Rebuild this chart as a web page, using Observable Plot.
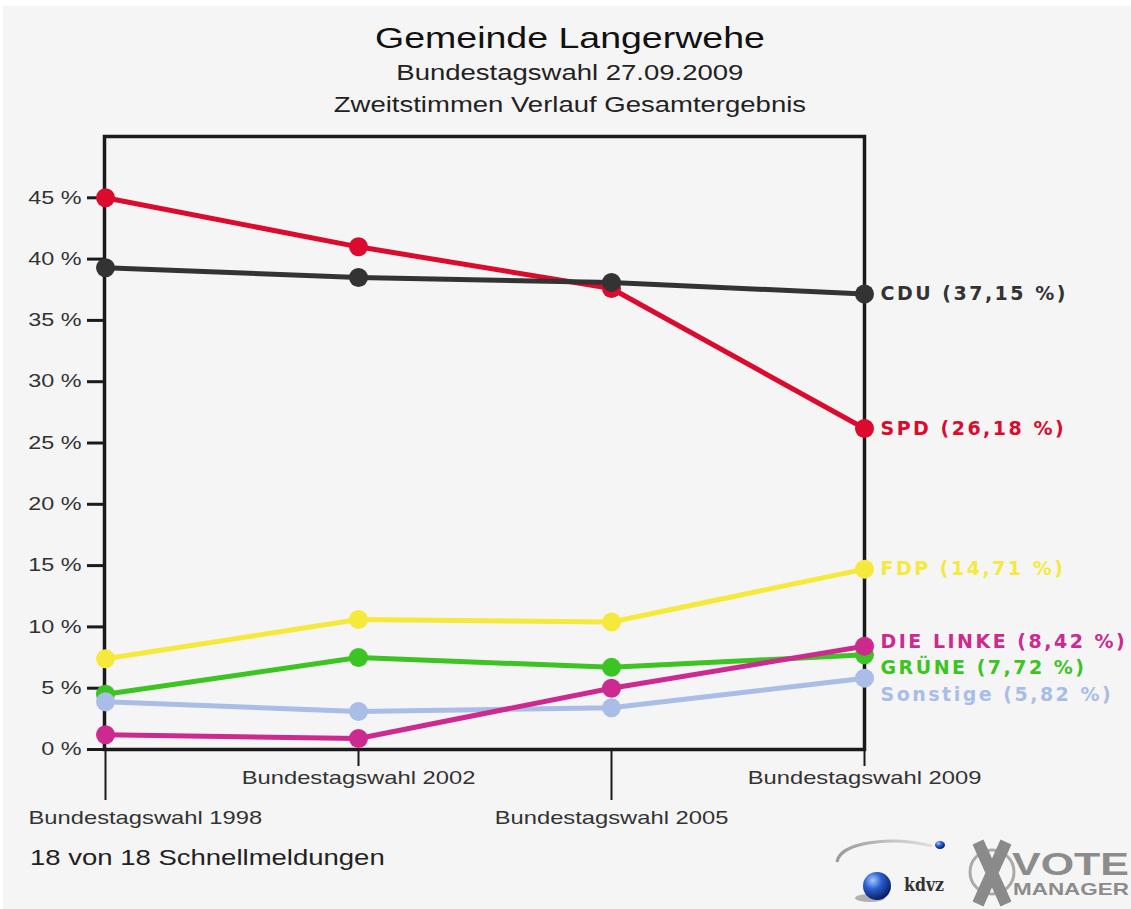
<!DOCTYPE html>
<html>
<head>
<meta charset="utf-8">
<script src="https://cdn.jsdelivr.net/npm/d3@7"></script>
<script src="https://cdn.jsdelivr.net/npm/@observablehq/plot@0.6"></script>
<style>
html, body { margin: 0; padding: 0; background: #ffffff; width: 1131px; height: 909px; overflow: hidden; }
#page { position: absolute; left: 3px; top: 6px; width: 1128px; height: 903px; background: #f5f5f5; }
.t { position: absolute; left: 0; width: 1140px; text-align: center; white-space: nowrap;
     font-family: "Liberation Sans", Arial, sans-serif; }
.t span { display: inline-block; transform: scaleX(1.25); transform-origin: center; }
#title { top: 23px; font-size: 30px; line-height: 30px; color: #111; }
#sub1 { top: 62px; font-size: 22px; line-height: 22px; color: #222; }
#sub2 { top: 94px; font-size: 22px; line-height: 22px; color: #222; }
#chart { position: absolute; left: 0; top: 120px; }
#caption { position: absolute; left: 30px; top: 847px; font-size: 22px; line-height: 22px; color: #222;
           font-family: "Liberation Sans", Arial, sans-serif; transform: scaleX(1.25); transform-origin: left center; white-space: nowrap; }
#logo { position: absolute; left: 820px; top: 820px; }
</style>
</head>
<body>
<div id="page"></div>
<div class="t" id="title"><span>Gemeinde Langerwehe</span></div>
<div class="t" id="sub1"><span>Bundestagswahl 27.09.2009</span></div>
<div class="t" id="sub2"><span>Zweitstimmen Verlauf Gesamtergebnis</span></div>
<div id="chart"></div>
<div id="caption">18 von 18 Schnellmeldungen</div>
<svg id="logo" width="311" height="89">
  <defs>
    <radialGradient id="ball" cx="35%" cy="30%" r="70%">
      <stop offset="0" stop-color="#a8c8ff"/>
      <stop offset="0.45" stop-color="#2a5fd0"/>
      <stop offset="1" stop-color="#0b1f66"/>
    </radialGradient>
    <linearGradient id="swoosh" x1="0" x2="1" y1="0" y2="0">
      <stop offset="0" stop-color="#9a9a9a"/>
      <stop offset="1" stop-color="#e0e0e0"/>
    </linearGradient>
  </defs>
  <path d="M17,42 C20,22 70,16 112,26" stroke="url(#swoosh)" stroke-width="3" fill="none"/>
  <ellipse cx="50" cy="78" rx="15" ry="4" fill="#333" opacity="0.35"/>
  <circle cx="57" cy="66" r="14" fill="url(#ball)"/>
  <ellipse cx="120" cy="25" rx="5" ry="4" fill="url(#ball)"/>
  <text x="84" y="71" font-family="DejaVu Serif" font-weight="bold" font-size="19" fill="#333" textLength="40" lengthAdjust="spacingAndGlyphs">kdvz</text>
  <circle cx="172" cy="52" r="22" stroke="#aaaaaa" stroke-width="3" fill="none"/>
  <path d="M158,22 L186,84 M186,22 L158,84" stroke="#8a8a8a" stroke-width="12"/>
  <text x="192" y="55" font-family="Liberation Sans" font-weight="bold" font-size="32" fill="#8c8c8c" textLength="117" lengthAdjust="spacingAndGlyphs">VOTE</text>
  <text x="193" y="75" font-family="Liberation Sans" font-weight="bold" font-size="17" fill="#8c8c8c" textLength="116" lengthAdjust="spacingAndGlyphs">MANAGER</text>
</svg>
<script>
// ---- data ----
const elections = ["Bundestagswahl 1998", "Bundestagswahl 2002", "Bundestagswahl 2005", "Bundestagswahl 2009"];
const parties = ["CDU", "SPD", "FDP", "DIE LINKE", "GRÜNE", "Sonstige"];
const partyColors = ["#333333", "#dc0a2c", "#f5e93c", "#cc2a8f", "#3cc423", "#a9bde6"];
const cdu = [39.3, 38.5, 38.1, 37.15];
const spd = [45.0, 41.0, 37.6, 26.18];
const fdp = [7.4, 10.6, 10.4, 14.71];
const linke = [1.2, 0.9, 5.0, 8.42];
const gruene = [4.5, 7.5, 6.7, 7.72];
const sonstige = [3.9, 3.1, 3.4, 5.82];
const yTicks = [0, 5, 10, 15, 20, 25, 30, 35, 40, 45];
const drawOrder = ["GRÜNE", "Sonstige", "DIE LINKE", "FDP", "SPD", "CDU"];

const series = { "CDU": cdu, "SPD": spd, "FDP": fdp, "DIE LINKE": linke, "GRÜNE": gruene, "Sonstige": sonstige };
const rows = drawOrder.flatMap(p => elections.map((e, i) => ({ party: p, election: e, value: series[p][i] })));

// end labels with simple top-down collision avoidance (in value units)
const last = elections.length - 1;
const gap = 2.14;
const ends = parties.map(p => ({ party: p, value: series[p][last] }))
  .sort((a, b) => b.value - a.value);
let prev = Infinity;
for (const d of ends) {
  const pushed = prev - gap < d.value;
  d.labelY = pushed ? prev - gap : d.value;
  prev = d.labelY;
  d.label = `${d.party} (${d.value.toFixed(2).replace(".", ",")} %)`;
}
// lift a pushed cluster slightly so it stays near its points
for (let i = 0; i < ends.length; i++) {
  if (i + 1 < ends.length && ends[i].value - ends[i + 1].value < gap) {
    let j = i; while (j + 1 < ends.length && ends[j].labelY - ends[j + 1].labelY <= gap + 1e-9) j++;
    for (let k = i; k <= j; k++) ends[k].labelY += 0.35;
    i = j;
  }
}
const endTexts = new Set(ends.map(d => d.label));

const longTicks = elections.filter((d, i) => i % 2 === 0);
const shortTicks = elections.filter((d, i) => i % 2 === 1);

const plot = Plot.plot({
  width: 1131,
  height: 715,
  marginLeft: 104,
  marginRight: 267,
  marginTop: 16,
  marginBottom: 86,
  style: { background: "transparent", fontFamily: "'Liberation Sans', Arial, sans-serif", overflow: "visible" },
  x: { type: "point", domain: elections, padding: 0, axis: null },
  y: { domain: [0, 50], axis: null },
  color: { domain: parties, range: partyColors },
  marks: [
    Plot.frame({ stroke: "#1a1a1a", strokeWidth: 3.5 }),
    Plot.axisY(yTicks, { tickSize: 17, tickPadding: 6, tickFormat: d => d + " %", stroke: "#1a1a1a", strokeWidth: 3, fill: "#333", fontSize: 18, label: null }),
    Plot.axisX(longTicks, { tickSize: 51, tickFormat: () => "", stroke: "#1a1a1a", strokeWidth: 2, label: null }),
    Plot.axisX(shortTicks, { tickSize: 17, tickFormat: () => "", stroke: "#1a1a1a", strokeWidth: 2, label: null }),
    Plot.text(shortTicks, { x: d => d, text: d => d, frameAnchor: "bottom", dy: 34, fontSize: 19, fill: "#333" }),
    Plot.text(longTicks.slice(1), { x: d => d, text: d => d, frameAnchor: "bottom", dy: 74, fontSize: 19, fill: "#333" }),
    Plot.text(longTicks.slice(0, 1), { x: d => d, text: d => d, frameAnchor: "bottom", dy: 74, dx: -77, textAnchor: "start", fontSize: 19, fill: "#333" }),
    Plot.line(rows, { x: "election", y: "value", z: "party", stroke: "party", strokeWidth: 5 }),
    Plot.dot(rows, { x: "election", y: "value", fill: "party", r: 9.5 }),
    Plot.text(ends, { x: () => elections[last], y: "labelY", text: "label", fill: "party", textAnchor: "start", dx: 16,
      fontSize: 19, fontWeight: "bold", fontFamily: "'DejaVu Sans', sans-serif" })
  ]
});

function stretchText(t, k) {
  const xa = t.getAttribute("x");
  const tr = t.getAttribute("transform") || "";
  if (xa != null && xa !== "") {
    const x = +xa;
    t.setAttribute("transform", `${tr} translate(${x},0) scale(${k},1) translate(${-x},0)`);
  } else {
    t.setAttribute("transform", `${tr} scale(${k},1)`);
  }
}
const electionSet = new Set(elections);
plot.querySelectorAll("text").forEach(t => {
  const s = t.textContent;
  if (electionSet.has(s)) stretchText(t, 1.25);
  else if (/^\d+ %$/.test(s)) stretchText(t, 1.3);
  else if (endTexts.has(s)) t.style.letterSpacing = "2.5px";
});

document.getElementById("chart").appendChild(plot);
</script>
</body>
</html>
